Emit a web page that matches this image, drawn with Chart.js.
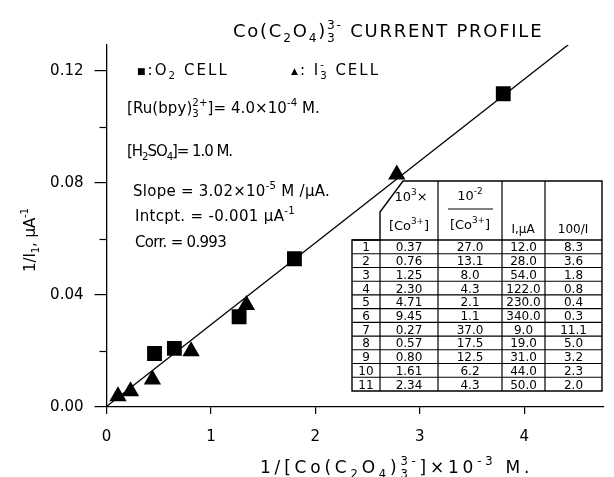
<!DOCTYPE html>
<html>
<head>
<meta charset="utf-8">
<title>Co(C2O4)3 current profile</title>
<script src="https://cdn.jsdelivr.net/npm/chart.js@4.4.1/dist/chart.umd.min.js"></script>
<style>
html, body { margin: 0; padding: 0; background: #fff; }
#wrap { position: relative; width: 614px; height: 477px; overflow: hidden; font-family: "DejaVu Sans", sans-serif; color: #000; }
#chart { position: absolute; left: 0; top: 0; }
#lines { position: absolute; left: 0; top: 0; }
.txt { position: absolute; white-space: nowrap; line-height: 1; }
.sb, .sp { position: relative; font-size: 0.68em; line-height: 0; }
.sb { top: 0.44em; }
.sp { top: -0.66em; }
.stk { display: inline-block; font-size: 0.68em; line-height: 0; }
.stk > span { display: block; position: relative; }
.stk .u { top: -0.66em; }
.stk .d { top: 0.44em; }
.mk { font-size: 0.6em; position: relative; top: -0.1em; }
</style>
</head>
<body>
<div id="wrap">
  <canvas id="chart" width="614" height="477"></canvas>
</div>
<script>
// Dados
var o2CellX = [0.46, 0.65, 1.27, 1.80, 3.80];
var o2CellY = [0.0191, 0.0209, 0.0322, 0.0529, 0.1118];
var i3CellX = [0.11, 0.23, 0.44, 0.81, 1.34, 2.78];
var i3CellY = [0.0038, 0.0056, 0.0098, 0.0199, 0.0364, 0.0830];
var fitLineX = [0, 4.45];
var fitLineY = [0.0002, 0.1301];

var xTicks = [0, 1, 2, 3, 4];
var xTickLabels = ['0', '1', '2', '3', '4'];
var yTicks = [0, 0.02, 0.04, 0.06, 0.08, 0.10, 0.12];
var yTickLabels = ['0.00', '', '0.04', '', '0.08', '', '0.12'];

// Tabela de dados
var tableRuns = ['1', '2', '3', '4', '5', '6', '7', '8', '9', '10', '11'];
var tableCoConc = ['0.37', '0.76', '1.25', '2.30', '4.71', '9.45', '0.27', '0.57', '0.80', '1.61', '2.34'];
var tableInvCo = ['27.0', '13.1', '8.0', '4.3', '2.1', '1.1', '37.0', '17.5', '12.5', '6.2', '4.3'];
var tableCurrent = ['12.0', '28.0', '54.0', '122.0', '230.0', '340.0', '9.0', '19.0', '31.0', '44.0', '50.0'];
var tableInvI = ['8.3', '3.6', '1.8', '0.8', '0.4', '0.3', '11.1', '5.0', '3.2', '2.3', '2.0'];

var FONT = '"DejaVu Sans", sans-serif';
var wrap = document.getElementById('wrap');

function toPoints(xs, ys) {
    return xs.map(function(x, i) { return { x: x, y: ys[i] }; });
}

/**
 * Traços menores do eixo y (mais curtos)
 */
var minorTicks = {
    id: 'minorTicks',
    afterDraw: function(chart) {
        var c = chart.ctx;
        var left = chart.chartArea.left;
        var ys = chart.scales.y;
        c.save();
        c.strokeStyle = '#000';
        c.lineWidth = 1.2;
        yTicks.forEach(function(v, i) {
            if (yTickLabels[i] !== '') return;
            var p = Math.round(ys.getPixelForValue(v)) + 0.5;
            c.beginPath();
            c.moveTo(left - 7, p);
            c.lineTo(left, p);
            c.stroke();
        });
        c.restore();
    }
};

new Chart(document.getElementById('chart').getContext('2d'), {
    type: 'scatter',
    data: {
        datasets: [
            {
                label: 'fit',
                type: 'line',
                data: toPoints(fitLineX, fitLineY),
                borderColor: '#000',
                borderWidth: 1.3,
                pointRadius: 0,
                fill: false
            },
            {
                label: 'O2 CELL',
                data: toPoints(o2CellX, o2CellY),
                pointStyle: 'rect',
                pointRadius: 10.5,
                backgroundColor: '#000',
                borderColor: '#000',
                borderWidth: 0
            },
            {
                label: 'I3- CELL',
                data: toPoints(i3CellX, i3CellY),
                pointStyle: 'triangle',
                pointRadius: 10,
                backgroundColor: '#000',
                borderColor: '#000',
                borderWidth: 0
            }
        ]
    },
    options: {
        responsive: false,
        animation: false,
        devicePixelRatio: 1,
        layout: { padding: { top: 45, left: 0, right: 0, bottom: 0 } },
        plugins: {
            legend: { display: false },
            tooltip: { enabled: false }
        },
        scales: {
            x: {
                type: 'linear',
                min: 0,
                max: 4.76,
                afterBuildTicks: function(s) {
                    s.ticks = xTicks.map(function(v) { return { value: v }; });
                },
                afterFit: function(s) { s.height = 70; },
                border: { color: '#000', width: 1.3 },
                grid: { drawOnChartArea: false, tickLength: 7, color: '#000', lineWidth: 1.2 },
                ticks: {
                    color: '#000',
                    padding: 14,
                    maxRotation: 0,
                    font: { family: FONT, size: 15 },
                    callback: function(v, i) { return xTickLabels[i]; }
                }
            },
            y: {
                type: 'linear',
                min: 0,
                max: 0.1292,
                afterBuildTicks: function(s) {
                    s.ticks = yTicks.map(function(v) { return { value: v }; });
                },
                afterFit: function(s) { s.width = 106.5; },
                border: { color: '#000', width: 1.3 },
                grid: {
                    drawOnChartArea: false,
                    tickLength: 12,
                    lineWidth: 1.2,
                    tickColor: function(ctx) {
                        return yTickLabels[ctx.index] === '' ? 'rgba(0,0,0,0)' : '#000';
                    }
                },
                ticks: {
                    color: '#000',
                    padding: 11,
                    font: { family: FONT, size: 15 },
                    callback: function(v, i) { return yTickLabels[i]; }
                }
            }
        }
    },
    plugins: [minorTicks]
});

/**
 * Colocar um texto com largura ajustada pelo espaçamento das letras
 */
function placeText(html, left, cy, size, width) {
    var el = document.createElement('div');
    el.className = 'txt';
    el.innerHTML = html;
    el.style.fontSize = size + 'px';
    el.style.left = left + 'px';
    el.style.top = (cy - size / 2) + 'px';
    wrap.appendChild(el);
    if (width) {
        var w = el.getBoundingClientRect().width;
        el.style.letterSpacing = ((width - w) / el.textContent.length) + 'px';
    }
    return el;
}

function stk(up, down) {
    return '<span class="stk"><span class="u">' + up + '</span><span class="d">' + down + '</span></span>';
}
function sb(t) { return '<span class="sb">' + t + '</span>'; }
function sp(t) { return '<span class="sp">' + t + '</span>'; }

// Textos do gráfico
placeText('Co(C' + sb('2') + 'O' + sb('4') + ')' + stk('3-', '3') + ' CURRENT PROFILE', 233, 31, 18, 312);
placeText('<span class="mk">&#9632;</span>:O' + sb('2') + ' CELL', 137, 70, 15, 92);
placeText('<span class="mk">&#9650;</span>: I' + stk('-', '3') + ' CELL', 291, 70, 15, 91);
placeText('[Ru(bpy)' + stk('2+', '3') + ']= 4.0×10' + sp('-4') + ' M.', 127, 108, 15, 193);
placeText('[H' + sb('2') + 'SO' + sb('4') + ']= 1.0 M.', 127, 151, 15, 105);
placeText('Slope = 3.02×10' + sp('-5') + ' M /µA.', 133, 191, 15, 197);
placeText('Intcpt. = -0.001 µA' + sp('-1'), 135, 216, 15, 160);
placeText('Corr. = 0.993', 135, 242, 15, 91);
placeText('1/[Co(C' + sb('2') + 'O' + sb('4') + ')' + stk('3-', '3') + ']×10' + sp('-3') + ' M.', 260, 467, 17, 277);

var yTitle = placeText('1/I' + sb('1') + ', µA' + sp('-1'), 0, 0, 15, 64);
yTitle.style.left = '30px';
yTitle.style.top = '240px';
yTitle.style.transform = 'translate(-50%, -50%) rotate(-90deg)';

/**
 * Tabela: linhas em SVG, textos em HTML
 */
var colX = [352, 380, 438, 502, 545, 602];
var headTop = 181;
var cutY = 212;
var cutX = 403;
var rowTop = 240;
var rowBottom = 391;
var rowH = (rowBottom - rowTop) / tableRuns.length;

var svgNS = 'http://www.w3.org/2000/svg';
var svg = document.createElementNS(svgNS, 'svg');
svg.setAttribute('id', 'lines');
svg.setAttribute('width', 614);
svg.setAttribute('height', 477);
wrap.appendChild(svg);

function svgEl(name, attrs) {
    var e = document.createElementNS(svgNS, name);
    for (var k in attrs) e.setAttribute(k, attrs[k]);
    svg.appendChild(e);
    return e;
}
function seg(x1, y1, x2, y2, w) {
    svgEl('line', { x1: x1, y1: y1, x2: x2, y2: y2, stroke: '#000', 'stroke-width': w || 1.2 });
}

var outline = [
    [colX[0], rowTop], [colX[1], rowTop], [colX[1], cutY], [cutX, headTop],
    [colX[5], headTop], [colX[5], rowBottom], [colX[0], rowBottom]
];
svgEl('polygon', {
    points: outline.map(function(p) { return p.join(','); }).join(' '),
    fill: '#fff', stroke: '#000', 'stroke-width': 1.4
});
seg(colX[1], rowTop, colX[1], rowBottom);
for (var c = 2; c < 5; c++) seg(colX[c], headTop, colX[c], rowBottom);
for (var r = 0; r < tableRuns.length; r++) {
    seg(colX[0], rowTop + r * rowH, colX[5], rowTop + r * rowH, r === 0 ? 1.5 : 1.1);
}

function cell(html, cx, cy, size) {
    var el = document.createElement('div');
    el.className = 'txt';
    el.innerHTML = html;
    el.style.fontSize = size + 'px';
    el.style.width = '80px';
    el.style.textAlign = 'center';
    el.style.left = (cx - 40) + 'px';
    el.style.top = (cy - size / 2) + 'px';
    wrap.appendChild(el);
    return el;
}

var cols = [tableRuns, tableCoConc, tableInvCo, tableCurrent, tableInvI];
cols.forEach(function(list, ci) {
    var cx = (colX[ci] + colX[ci + 1]) / 2;
    list.forEach(function(t, ri) {
        cell(t, cx, rowTop + (ri + 0.5) * rowH + 0.5, 12);
    });
});

// Cabeçalho da tabela
cell('10' + sp('3') + '×', 411, 196, 13);
cell('[Co' + sp('3+') + ']', 409, 225, 13);
cell('10' + sp('-2'), 470, 195, 13);
seg(448, 209, 493, 209, 1.1);
cell('[Co' + sp('3+') + ']', 470, 224, 13);
cell('I,µA', 523, 229, 12);
cell('100/I', 573, 229, 12);
</script>
</body>
</html>
